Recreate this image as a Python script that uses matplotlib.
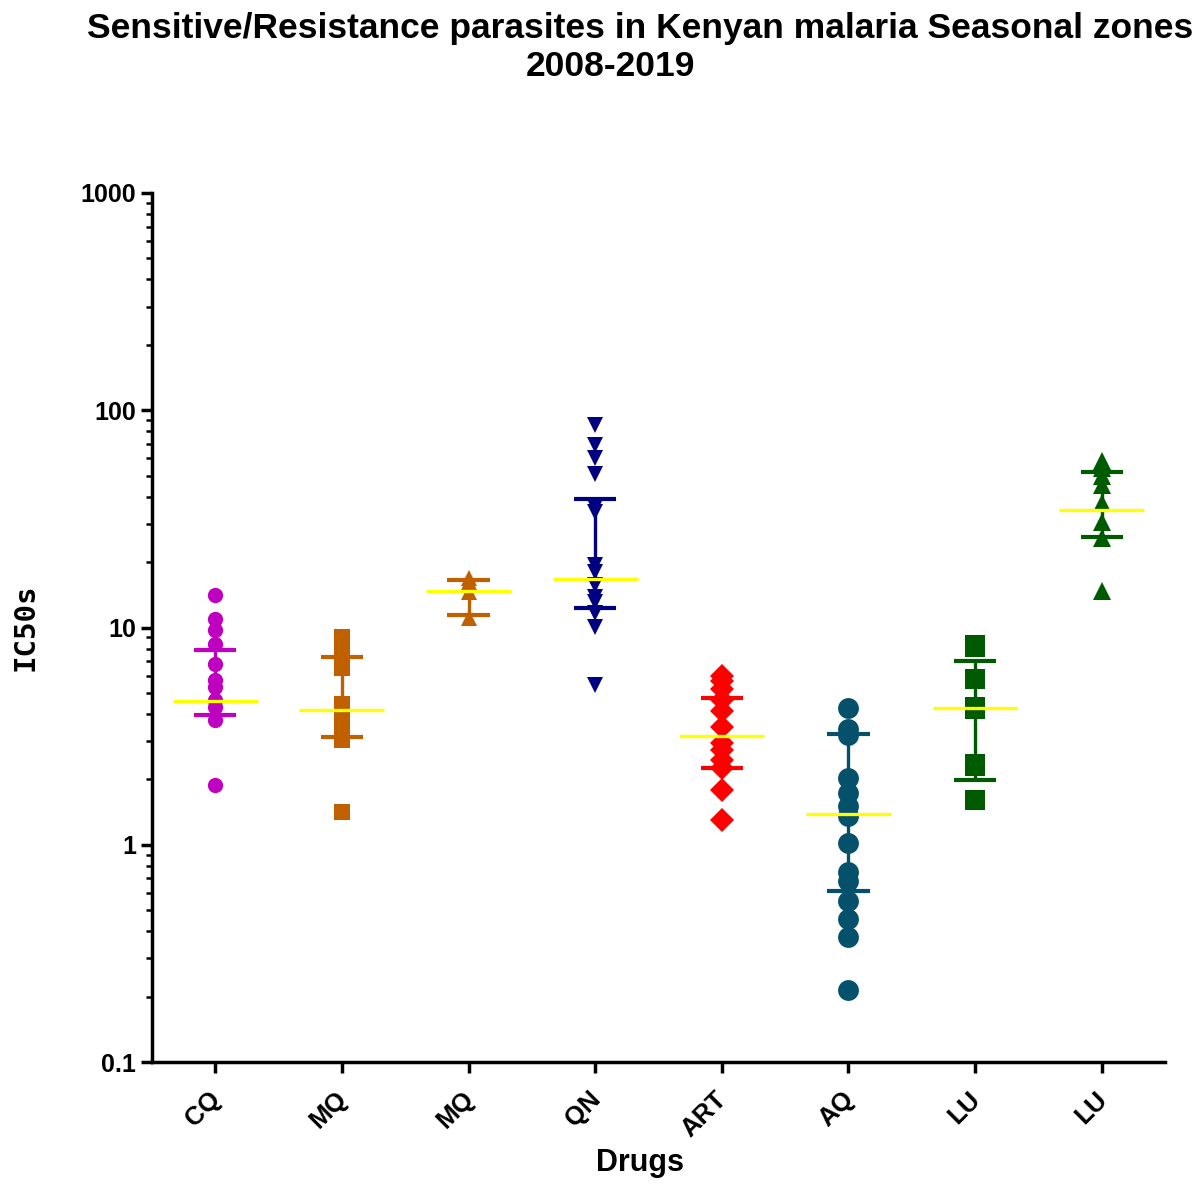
import numpy as np
import matplotlib
matplotlib.use("Agg")
import matplotlib.pyplot as plt
import matplotlib.transforms as mtransforms
from matplotlib.ticker import LogLocator, FixedLocator, NullFormatter

plt.rcParams['font.family'] = ['Liberation Sans', 'DejaVu Sans']

# IC50 values, one list per drug group
labels = ["CQ", "MQ", "MQ", "QN", "ART", "AQ", "LU", "LU"]

cq = [14.1, 11.0, 9.7, 8.4, 6.8, 5.75, 5.3, 4.65, 4.3, 3.76, 1.89]
mq_a = [9.05, 8.1, 7.3, 6.5, 4.45, 3.97, 3.45, 3.04, 1.42]
mq_b = [16.9, 16.2, 14.6, 11.1]
qn = [85.7, 69.3, 60.4, 51.0, 35.9, 34.1, 19.4, 18.0, 15.7, 13.8, 13.1, 11.7, 10.1, 5.45]
art = [6.0, 5.7, 5.2, 4.65, 4.13, 3.49, 2.94, 2.74, 2.46, 2.26, 1.79, 1.30]
aq = [4.28, 3.4, 3.2, 2.03, 1.74, 1.51, 1.35, 1.02, 0.75, 0.68, 0.55, 0.455, 0.376, 0.214]
lu_a = [8.3, 8.1, 5.8, 4.3, 4.2, 2.35, 2.3, 1.6, 1.6]
lu_b = [58.1, 54.3, 49.9, 45.4, 37.5, 30.6, 25.9, 14.8]

groups = [cq, mq_a, mq_b, qn, art, aq, lu_a, lu_b]

# median and interquartile range as drawn
medians = [4.6, 4.19, 14.8, 16.7, 3.17, 1.38, 4.26, 34.9]
q1 = [3.94, 3.15, 11.4, 12.3, 2.25, 0.61, 1.98, 26.2]
q3 = [7.92, 7.33, 16.6, 39.0, 4.73, 3.23, 7.0, 52.2]

colors = ["#C000C0", "#C06000", "#C06000", "#000080", "#FF0000", "#05506A", "#005A00", "#005A00"]
markers = ["o", "s", "^", "v", "D", "o", "s", "^"]
msizes = [11, 11, 11.5, 11.5, 12, 15, 14.5, 13.5]

fig = plt.figure(figsize=(12.04, 11.84), dpi=100)
ax = fig.add_axes([0.1262, 0.1030, 0.9676 - 0.1262, 0.8370 - 0.1030])

for i, vals in enumerate(groups):
  xs = np.full(len(vals), i)
  ax.plot(xs, vals, linestyle="none", marker=markers[i], markersize=msizes[i],
          color=colors[i], markeredgewidth=0, zorder=3)
  # IQR bar
  ax.plot([i, i], [q1[i], q3[i]], color=colors[i], lw=2.4, zorder=4, solid_capstyle="butt")
  ax.plot([i - 0.167, i + 0.167], [q1[i], q1[i]], color=colors[i], lw=3, zorder=4, solid_capstyle="butt")
  ax.plot([i - 0.167, i + 0.167], [q3[i], q3[i]], color=colors[i], lw=3, zorder=4, solid_capstyle="butt")
  # median
  ax.plot([i - 0.335, i + 0.335], [medians[i], medians[i]], color="#FFFF00", lw=2.4, zorder=5,
          solid_capstyle="butt")

ax.set_yscale("log")
ax.set_ylim(0.1, 1000)
ax.set_xlim(-0.5, len(labels) - 0.5)

ax.yaxis.set_major_locator(FixedLocator([0.1, 1, 10, 100, 1000]))
ax.yaxis.set_minor_locator(LogLocator(base=10, subs=np.arange(2, 10)))
ax.yaxis.set_minor_formatter(NullFormatter())
ax.set_yticklabels(["0.1", "1", "10", "100", "1000"])

ax.set_xticks(range(len(labels)))
ax.set_xticklabels(labels, rotation=45, ha="right", rotation_mode="anchor")

for s in ["top", "right"]:
  ax.spines[s].set_visible(False)
for s in ["left", "bottom"]:
  ax.spines[s].set_linewidth(2.5)

ax.tick_params(axis="both", which="major", direction="out", length=8, width=2.5,
               labelsize=18)
ax.tick_params(axis="x", labelsize=18.5)
ax.tick_params(axis="y", which="minor", direction="out", length=4, width=1.8)
ax.tick_params(axis="x", which="major", pad=10)
for lab in ax.get_xticklabels() + ax.get_yticklabels():
  lab.set_fontweight("bold")

# nudge rotated category labels a little to the left
shift = mtransforms.ScaledTranslation(-7 / 100, 0, fig.dpi_scale_trans)
for lab in ax.get_xticklabels():
  lab.set_transform(lab.get_transform() + shift)

ax.set_xlabel("Drugs", fontsize=22, fontweight="bold")
ax.xaxis.set_label_coords(0.482, -0.099)
ax.set_ylabel("IC50s", fontsize=21, fontweight="bold", family=["DejaVu Sans Mono"])
ax.yaxis.set_label_coords(-0.111, 0.5)

fig.text(0.532, 0.990, "Sensitive/Resistance parasites in Kenyan malaria Seasonal zones",
         ha="center", va="top", fontsize=25.5, fontweight="bold")
fig.text(0.507, 0.958, "2008-2019", ha="center", va="top", fontsize=25.5, fontweight="bold")

fig.savefig("out.png", dpi=100)
